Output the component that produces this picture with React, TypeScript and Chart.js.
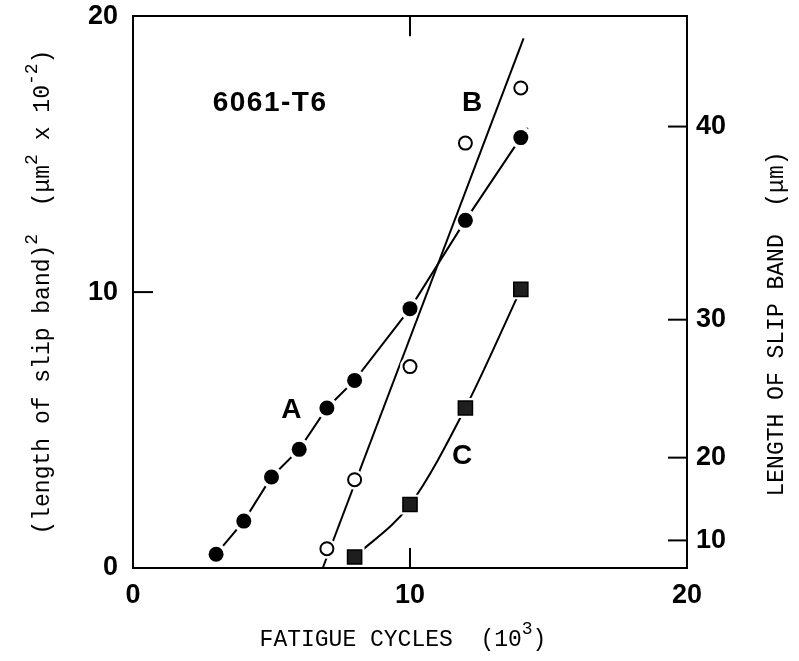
import React, { useEffect, useRef } from "react";
import { Chart, registerables } from "chart.js";

Chart.register(...registerables);

// ---- data ----
const xTicks = [0, 10, 20]; // fatigue cycles (10^3)
const yTicks = [0, 10, 20]; // (length of slip band)^2 (μm^2 x 10^-2)
const lengthTicks = [10, 20, 30, 40]; // length of slip band (μm), right axis

const aCycles = [3, 4, 5, 6, 7, 8, 10, 12, 14];
const aValues = [0.5, 1.7, 3.3, 4.3, 5.8, 6.8, 9.4, 12.6, 15.6];
const aLineCycles = [3, 4, 5, 6, 7, 8, 10, 12, 14, 14.25];
const aLineValues = [0.5, 1.7, 3.3, 4.3, 5.8, 6.8, 9.4, 12.6, 15.6, 15.95];

const bCycles = [7, 8, 10, 12, 14];
const bValues = [0.7, 3.2, 7.3, 15.4, 17.4];
const bFitCycles = [6.85, 14.1];
const bFitValues = [0, 19.2];

const cCycles = [8, 10, 12, 14];
const cValues = [0.4, 2.3, 5.8, 10.1];

const seriesLabels = [
  { text: "6061-T6", x: 4.95, y: 16.86 },
  { text: "A", x: 5.74, y: 5.7 },
  { text: "B", x: 12.27, y: 16.86 },
  { text: "C", x: 11.91, y: 4.04 },
];

const pts = (xs: number[], ys: number[]) => xs.map((x, i) => ({ x, y: ys[i] }));

const TICK_FONT = { family: "'Liberation Sans', Arial, sans-serif", size: 27, weight: "bold" as const };
const TITLE_FONT = "'Liberation Mono', 'Courier New', monospace";

type Seg = { t: string; sup?: boolean };

function drawSegs(ctx: CanvasRenderingContext2D, segs: Seg[], cx: number, cy: number, rot: number, size: number) {
  const supSize = Math.round(size * 0.78);
  const fontN = `${size}px ${TITLE_FONT}`;
  const fontS = `${supSize}px ${TITLE_FONT}`;
  let total = 0;
  const widths = segs.map((s) => {
    ctx.font = s.sup ? fontS : fontN;
    const w = ctx.measureText(s.t).width;
    total += w;
    return w;
  });
  ctx.save();
  ctx.translate(cx, cy);
  ctx.rotate(rot);
  ctx.fillStyle = "#000";
  ctx.textBaseline = "middle";
  ctx.textAlign = "left";
  let x = -total / 2;
  segs.forEach((s, i) => {
    ctx.font = s.sup ? fontS : fontN;
    ctx.fillText(s.t, x, s.sup ? -size * 0.45 : 0);
    x += widths[i];
  });
  ctx.restore();
}

const decorPlugin = {
  id: "decor",
  beforeDraw(chart: any) {
    const ctx = chart.ctx;
    ctx.save();
    ctx.fillStyle = "#fff";
    ctx.fillRect(0, 0, chart.width, chart.height);
    ctx.restore();
  },
  afterDraw(chart: any) {
    const ctx: CanvasRenderingContext2D = chart.ctx;
    const { left, right, top, bottom } = chart.chartArea;
    const xs = chart.scales.x;
    const ys = chart.scales.y;
    const y2 = chart.scales.y2;
    const len = 20;
    ctx.save();
    ctx.strokeStyle = "#000";
    ctx.lineWidth = 2;
    const line = (x1: number, y1: number, x2: number, yy2: number) => {
      ctx.beginPath();
      ctx.moveTo(x1, y1);
      ctx.lineTo(x2, yy2);
      ctx.stroke();
    };
    xs.ticks.forEach((t: any) => {
      if (t.value <= xs.min || t.value >= xs.max) return;
      const p = xs.getPixelForValue(t.value);
      line(p, bottom, p, bottom - len);
      line(p, top, p, top + len);
    });
    ys.ticks.forEach((t: any) => {
      if (t.value <= ys.min || t.value >= ys.max) return;
      const p = ys.getPixelForValue(t.value);
      line(left, p, left + len, p);
    });
    y2.ticks.forEach((t: any) => {
      if (t.value <= y2.min || t.value >= y2.max) return;
      const p = y2.getPixelForValue(t.value);
      line(right, p, right - len + 1, p);
    });
    ctx.restore();

    // series labels
    ctx.save();
    ctx.fillStyle = "#000";
    ctx.font = `bold 28px 'Liberation Sans', Arial, sans-serif`;
    ctx.textAlign = "center";
    ctx.textBaseline = "middle";
    (ctx as any).letterSpacing = "1.5px";
    seriesLabels.forEach((l) => {
      ctx.fillText(l.text, xs.getPixelForValue(l.x), ys.getPixelForValue(l.y));
    });
    ctx.restore();

    // axis titles
    drawSegs(
      ctx,
      [
        { t: "(length of slip band)" },
        { t: "2", sup: true },
        { t: "  (\u03bcm" },
        { t: "2", sup: true },
        { t: " x 10" },
        { t: "-2", sup: true },
        { t: ")" },
      ],
      43,
      (top + bottom) / 2,
      -Math.PI / 2,
      23
    );
    drawSegs(
      ctx,
      [{ t: "FATIGUE CYCLES  (10" }, { t: "3", sup: true }, { t: ")" }],
      403,
      640,
      0,
      23
    );
    drawSegs(ctx, [{ t: "LENGTH OF SLIP BAND  (\u03bcm)" }], 777, 324, -Math.PI / 2, 23);
  },
};

const axisBorder = { display: true, color: "#000", width: 2 };
const hiddenTickGrid = (len: number) => ({
  display: true,
  drawOnChartArea: false,
  drawTicks: true,
  tickLength: len,
  tickColor: "rgba(0,0,0,0)",
});

export default function App() {
  const ref = useRef<HTMLCanvasElement | null>(null);

  useEffect(() => {
    if (!ref.current) return;
    const black = "#000";
    const chart = new Chart(ref.current, {
      type: "scatter",
      data: {
        datasets: [
          // markers (top)
          {
            label: "A",
            data: pts(aCycles, aValues),
            pointStyle: "circle",
            pointRadius: 7.5,
            backgroundColor: black,
            borderColor: black,
            borderWidth: 0,
            order: 0,
          },
          {
            label: "B",
            data: pts(bCycles, bValues),
            pointStyle: "circle",
            pointRadius: 6.5,
            backgroundColor: "#fff",
            borderColor: black,
            borderWidth: 2,
            order: 0,
          },
          {
            label: "C",
            data: pts(cCycles, cValues),
            pointStyle: "rect",
            pointRadius: 10,
            backgroundColor: "#1e1e1e",
            borderColor: black,
            borderWidth: 1.5,
            order: 0,
          },
          // halos and lines
          {
            label: "C halo",
            data: pts(cCycles, cValues),
            pointStyle: "rect",
            pointRadius: 14,
            backgroundColor: "#fff",
            borderWidth: 0,
            order: 1,
          },
          {
            label: "C line",
            data: pts(cCycles, cValues),
            showLine: true,
            cubicInterpolationMode: "monotone",
            borderColor: black,
            borderWidth: 2,
            pointRadius: 0,
            order: 2,
          },
          {
            label: "B halo",
            data: pts(bCycles, bValues),
            pointStyle: "circle",
            pointRadius: 10,
            backgroundColor: "#fff",
            borderWidth: 0,
            order: 3,
          },
          {
            label: "B fit",
            data: pts(bFitCycles, bFitValues),
            showLine: true,
            borderColor: black,
            borderWidth: 2,
            pointRadius: 0,
            order: 4,
          },
          {
            label: "A halo",
            data: pts(aCycles, aValues),
            pointStyle: "circle",
            pointRadius: 11,
            backgroundColor: "#fff",
            borderWidth: 0,
            order: 5,
          },
          {
            label: "A line",
            data: pts(aLineCycles, aLineValues),
            showLine: true,
            borderColor: black,
            borderWidth: 2,
            pointRadius: 0,
            order: 6,
          },
        ] as any,
      },
      options: {
        responsive: false,
        animation: false,
        events: [],
        layout: { padding: 0 },
        plugins: {
          legend: { display: false },
          tooltip: { enabled: false },
        },
        scales: {
          x: {
            type: "linear",
            position: "bottom",
            min: 0,
            max: 20,
            grid: hiddenTickGrid(11),
            border: axisBorder,
            ticks: { font: TICK_FONT, color: black, padding: 0, maxRotation: 0, autoSkip: false },
            afterBuildTicks: (s: any) => {
              s.ticks = xTicks.map((v) => ({ value: v }));
            },
            afterFit: (s: any) => {
              s.height = 93;
            },
          },
          x2: {
            type: "linear",
            position: "top",
            min: 0,
            max: 20,
            grid: { display: true, drawOnChartArea: false, drawTicks: false },
            border: axisBorder,
            ticks: { display: false },
            afterFit: (s: any) => {
              s.height = 0;
            },
          },
          y: {
            type: "linear",
            position: "left",
            min: 0,
            max: 20,
            grid: hiddenTickGrid(15),
            border: axisBorder,
            ticks: { font: TICK_FONT, color: black, padding: 0, autoSkip: false },
            afterBuildTicks: (s: any) => {
              s.ticks = yTicks.map((v) => ({ value: v }));
            },
            afterFit: (s: any) => {
              s.width = 133;
            },
          },
          y2: {
            type: "linear",
            position: "right",
            min: 0,
            max: 20,
            grid: hiddenTickGrid(9),
            border: axisBorder,
            ticks: {
              font: TICK_FONT,
              color: black,
              padding: 0,
              autoSkip: false,
              callback: (v: any) => String(Math.round(Math.sqrt(Number(v) * 100))),
            },
            afterBuildTicks: (s: any) => {
              s.ticks = lengthTicks.map((L) => ({ value: (L * L) / 100 }));
            },
            afterFit: (s: any) => {
              s.width = 112;
            },
          },
        },
      } as any,
      plugins: [decorPlugin],
    });
    return () => chart.destroy();
  }, []);

  return (
    <div style={{ position: "fixed", left: 0, top: 0, width: 799, height: 661, background: "#fff" }}>
      <canvas ref={ref} width={799} height={661} style={{ display: "block" }} />
    </div>
  );
}
